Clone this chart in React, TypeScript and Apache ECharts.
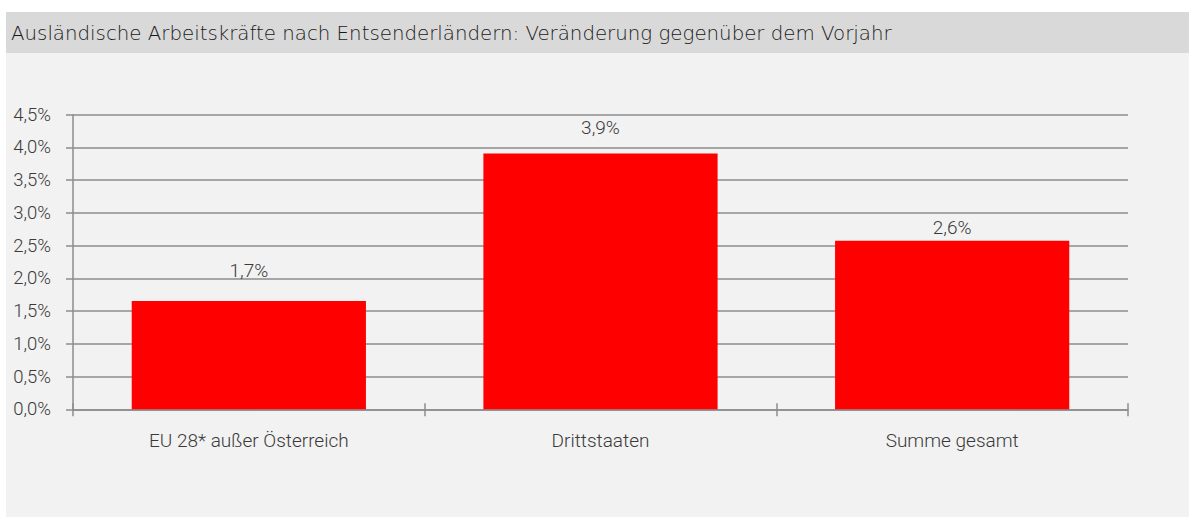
import React, { useEffect, useRef } from "react";
import * as echarts from "echarts";

const titleText = "Ausländische Arbeitskräfte nach Entsenderländern: Veränderung gegenüber dem Vorjahr";
const categories = ["EU 28* außer Österreich", "Drittstaaten", "Summe gesamt"];
const values = [1.655, 3.907, 2.573];
const valueLabels = ["1,7%", "3,9%", "2,6%"];
const labelDistances = [21, 17, 4];

const FONT = "Roboto";
const TEXT = "#3a3a3a";
const AXIS = "#8c8c8c";

export default function App() {
  const ref = useRef<HTMLDivElement>(null);
  useEffect(() => {
    if (!ref.current) return;
    const chart = echarts.init(ref.current, undefined, { renderer: "svg" });
    const fmt = (v: number) => v.toFixed(1).replace(".", ",") + "%";
    chart.setOption({
      animation: false,
      backgroundColor: "#ffffff",
      textStyle: { fontFamily: FONT, fontWeight: 300 },
      graphic: [
        { type: "rect", z: -10, silent: true, shape: { x: 6, y: 12, width: 1183, height: 505 }, style: { fill: "#f2f2f2" } },
        { type: "rect", z: -9, silent: true, shape: { x: 6, y: 12, width: 1183, height: 41 }, style: { fill: "#d9d9d9" } },
        {
          type: "text", x: 11, y: 33, silent: true,
          style: { text: titleText, fill: "#1a1a1a", font: `200 19.8px "DejaVu Sans"`, verticalAlign: "middle" },
        },
      ],
      grid: { left: 73, right: 61, top: 114.7, bottom: 107.7, containLabel: false },
      xAxis: [
        {
          type: "category",
          data: categories,
          position: "bottom",
          axisLine: { lineStyle: { color: AXIS, width: 1.5 } },
          axisTick: { show: true, length: 7, lineStyle: { color: AXIS, width: 1.5 } },
          axisLabel: { color: TEXT, fontSize: 19, fontFamily: FONT, fontWeight: 300, margin: 22 },
        },
        {
          type: "category",
          data: categories,
          position: "bottom",
          axisLine: { show: false },
          axisTick: { show: true, inside: true, length: 6, lineStyle: { color: AXIS, width: 1.5 } },
          axisLabel: { show: false },
        },
      ],
      yAxis: {
        type: "value",
        min: 0,
        max: 4.5,
        interval: 0.5,
        axisLine: { show: true, lineStyle: { color: AXIS, width: 1.5 } },
        axisTick: { show: true, length: 7, lineStyle: { color: AXIS, width: 1.5 } },
        splitLine: { show: true, lineStyle: { color: AXIS, width: 1.5 } },
        axisLabel: { color: TEXT, fontSize: 18.5, fontFamily: FONT, fontWeight: 300, margin: 22, formatter: fmt },
      },
      series: [
        {
          type: "bar",
          data: values.map((v, i) => ({
            value: v,
            label: { distance: labelDistances[i], formatter: valueLabels[i] },
          })),
          barCategoryGap: "33.4%",
          itemStyle: { color: "#ff0000" },
          label: { show: true, position: "top", color: TEXT, fontSize: 19, fontFamily: FONT, fontWeight: 300 },
        },
      ],
    });
    return () => chart.dispose();
  }, []);
  return <div ref={ref} style={{ position: "fixed", left: 0, top: 0, width: 1189, height: 517 }} />;
}
